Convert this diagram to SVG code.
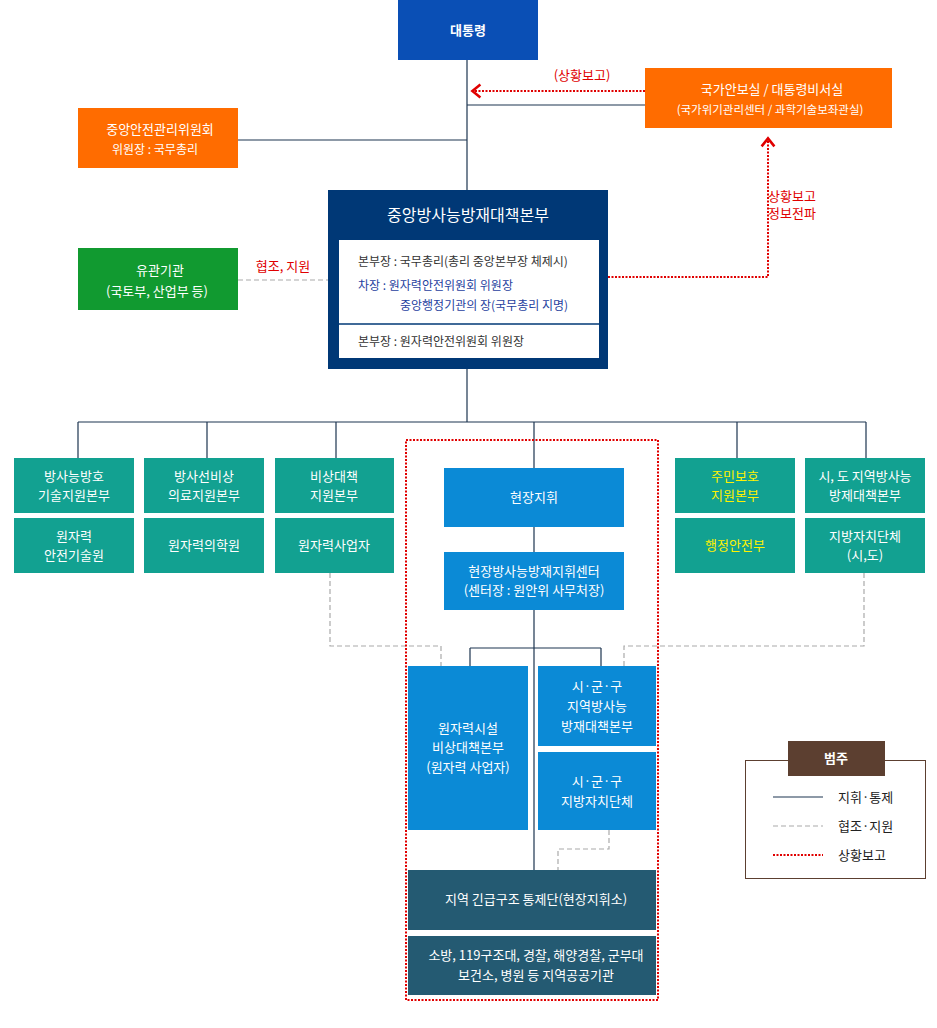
<svg xmlns="http://www.w3.org/2000/svg" width="937" height="1028" viewBox="0 0 937 1028">
<defs>
<style>
text{font-family:"Noto Sans CJK KR","Noto Sans",sans-serif;text-anchor:middle}
.w{fill:#fff;font-size:13px}
.y{fill:#fff200;font-size:13px}
.cmd{stroke:#1d3550;stroke-width:1.2;fill:none}
.sup{stroke:#aaa;stroke-width:1.2;stroke-dasharray:5,3;fill:none}
.rep{stroke:#e00000;stroke-width:2;stroke-dasharray:2,1.5;fill:none}
.teal{fill:#12a191}.blue{fill:#0b8ad6}.dk{fill:#245a72}
</style>
<marker id="ah" viewBox="0 0 10 10" refX="5" refY="5" markerWidth="8" markerHeight="8" orient="auto-start-reverse"><path d="M1,1 L6,5 L1,9" fill="none" stroke="#e00000" stroke-width="1.6"/></marker>
</defs>
<rect width="937" height="1028" fill="#fff"/>
<g id="connectors">
<path class="cmd" d="M467,60V190M467,105H645M238,140H467M467,369V422M78,422H866M78,422V458M207,422V458M336,422V458M534,422V468M737,422V458M866,422V458M534,527V552M534,610V870M470,648H601M470,648V666M601,648V666"/>
<path class="sup" d="M238,280H328M330,573V646H441V666M864,573V646H624V666M609,830V849H558V870"/>
<path class="rep" d="M645,91H474" marker-end="url(#ah)"/>
<path class="rep" d="M608,277H768V140" marker-end="url(#ah)"/>
<rect x="406" y="440" width="252" height="560" class="rep"/>
</g>
<g id="president"><rect x="398" y="0" width="140" height="60" fill="#0a4fb5"/><text x="468" y="35" class="w" font-weight="bold">대통령</text></g>
<text x="582" y="80" fill="#e00000" font-size="13">(상황보고)</text>
<g id="nsc"><rect x="645" y="68" width="247" height="60" fill="#ff6c00"/><text x="772" y="94" class="w">국가안보실 / 대통령비서실</text><text x="770" y="114" fill="#fff" font-size="11.5">(국가위기관리센터 / 과학기술보좌관실)</text></g>
<g id="csmc"><rect x="78" y="108" width="160" height="60" fill="#ff6c00"/><text x="160" y="134" class="w">중앙안전관리위원회</text><text x="155" y="154" fill="#fff" font-size="12">위원장 : 국무총리</text></g>
<g id="hq"><rect x="328" y="190" width="280" height="179" fill="#003876"/><text x="468" y="221" fill="#fff" font-size="16">중앙방사능방재대책본부</text>
<rect x="339" y="240" width="260" height="118" fill="#fff"/><line x1="339" y1="324" x2="599" y2="324" stroke="#003876" stroke-width="1.5"/>
<text x="358" y="266" fill="#333" font-size="12" style="text-anchor:start">본부장 : 국무총리(총리 중앙본부장 체제시)</text>
<text x="358" y="290" fill="#1f3fa0" font-size="12" style="text-anchor:start">차장 : 원자력안전위원회 위원장</text>
<text x="400" y="310" fill="#1f3fa0" font-size="12" style="text-anchor:start">중앙행정기관의 장(국무총리 지명)</text>
<text x="358" y="346" fill="#333" font-size="12" style="text-anchor:start">본부장 : 원자력안전위원회 위원장</text></g>
<text x="283" y="271" fill="#e00000" font-size="13">협조, 지원</text>
<text x="792" y="201" fill="#e00000" font-size="13">상황보고</text><text x="792" y="218" fill="#e00000" font-size="13">정보전파</text>
<g id="rel"><rect x="78" y="248" width="160" height="62" fill="#119a30"/><text x="160" y="275" class="w">유관기관</text><text x="157" y="296" class="w" font-size="12">(국토부, 산업부 등)</text></g>
<g id="n1"><rect x="14" y="458" width="120" height="55" class="teal"/><text x="74" y="481" class="w">방사능방호</text><text x="74" y="500" class="w">기술지원본부</text></g>
<g id="n2"><rect x="144" y="458" width="120" height="55" class="teal"/><text x="204" y="481" class="w">방사선비상</text><text x="204" y="500" class="w">의료지원본부</text></g>
<g id="n3"><rect x="275" y="458" width="119" height="55" class="teal"/><text x="334" y="481" class="w">비상대책</text><text x="334" y="500" class="w">지원본부</text></g>
<g id="n4"><rect x="675" y="458" width="120" height="55" class="teal"/><text x="735" y="481" class="y">주민보호</text><text x="735" y="500" class="y">지원본부</text></g>
<g id="n5"><rect x="805" y="458" width="120" height="55" class="teal"/><text x="865" y="481" class="w">시, 도 지역방사능</text><text x="865" y="500" class="w">방제대책본부</text></g>
<g id="m1"><rect x="14" y="518" width="120" height="55" class="teal"/><text x="74" y="541" class="w">원자력</text><text x="74" y="560" class="w">안전기술원</text></g>
<g id="m2"><rect x="144" y="518" width="120" height="55" class="teal"/><text x="204" y="550" class="w">원자력의학원</text></g>
<g id="m3"><rect x="275" y="518" width="119" height="55" class="teal"/><text x="334" y="550" class="w">원자력사업자</text></g>
<g id="m4"><rect x="675" y="518" width="120" height="55" class="teal"/><text x="735" y="550" class="y">행정안전부</text></g>
<g id="m5"><rect x="805" y="518" width="120" height="55" class="teal"/><text x="865" y="541" class="w">지방자치단체</text><text x="865" y="560" class="w">(시,도)</text></g>
<g id="field"><rect x="444" y="468" width="180" height="59" class="blue"/><text x="534" y="502" class="w">현장지휘</text></g>
<g id="center"><rect x="444" y="552" width="180" height="58" class="blue"/><text x="534" y="576" class="w">현장방사능방재지휘센터</text><text x="534" y="595" class="w">(센터장 : 원안위 사무처장)</text></g>
<g id="fac"><rect x="408" y="666" width="120" height="164" class="blue"/><text x="468" y="733" class="w">원자력시설</text><text x="468" y="752" class="w">비상대책본부</text><text x="468" y="772" class="w">(원자력 사업자)</text></g>
<g id="sgg1"><rect x="538" y="666" width="118" height="80" class="blue"/><text x="597" y="691" class="w">시·군·구</text><text x="597" y="711" class="w">지역방사능</text><text x="597" y="731" class="w">방재대책본부</text></g>
<g id="sgg2"><rect x="538" y="752" width="118" height="78" class="blue"/><text x="597" y="786" class="w">시·군·구</text><text x="597" y="806" class="w">지방자치단체</text></g>
<g id="rescue"><rect x="408" y="870" width="248" height="60" class="dk"/><text x="536" y="904" class="w">지역 긴급구조 통제단(현장지휘소)</text></g>
<g id="public"><rect x="408" y="936" width="248" height="59" class="dk"/><text x="536" y="960" class="w" font-size="12.5">소방, 119구조대, 경찰, 해양경찰, 군부대</text><text x="536" y="980" class="w" font-size="12.5">보건소, 병원 등 지역공공기관</text></g>
<g id="legend"><rect x="745.5" y="760.5" width="180" height="118" fill="none" stroke="#5c3f30"/><rect x="788" y="741" width="97" height="35" fill="#5c3f30"/><text x="836" y="763" class="w" font-weight="bold">범주</text>
<line x1="773" y1="797" x2="823" y2="797" class="cmd"/><line x1="773" y1="826" x2="823" y2="826" class="sup"/><line x1="773" y1="855" x2="823" y2="855" class="rep"/>
<text x="838" y="802" fill="#222" font-size="13" style="text-anchor:start">지휘·통제</text><text x="838" y="831" fill="#222" font-size="13" style="text-anchor:start">협조·지원</text><text x="838" y="860" fill="#222" font-size="13" style="text-anchor:start">상황보고</text></g>
</svg>
